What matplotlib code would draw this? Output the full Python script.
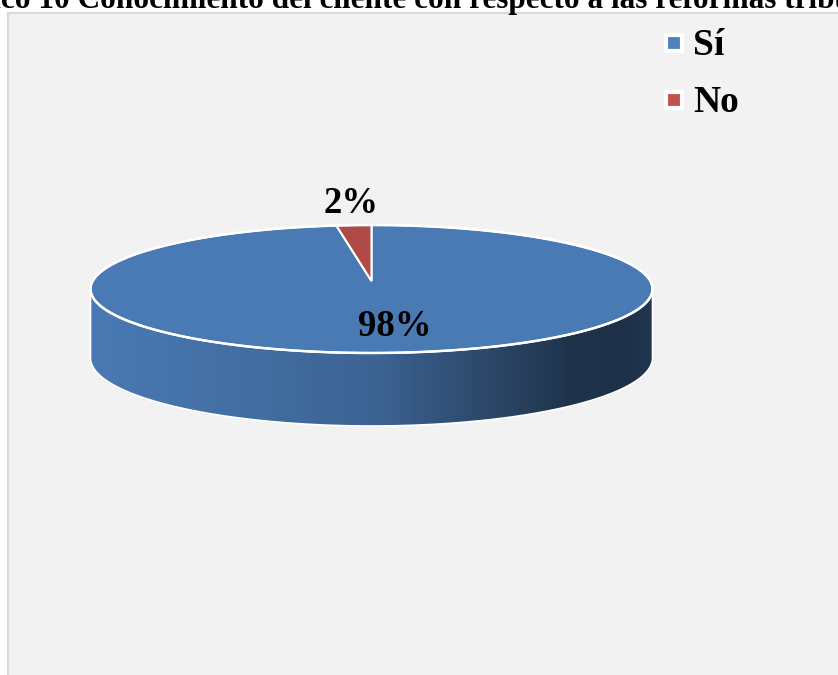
import numpy as np
import matplotlib
matplotlib.use('Agg')
import matplotlib.pyplot as plt
from matplotlib.patches import Polygon, Rectangle
from matplotlib.colors import to_rgb

# Datos del grafico
categorias = ['Sí', 'No']
valores = [98, 2]
colores_sup = ['#4a7ab4', '#b04a47']
colores_ley = ['#4f81bd', '#c0504d']
titulo = 'Gráfico 10 Conocimiento del cliente con respecto a las reformas tributarias'

fuente = 'Liberation Serif'

fig = plt.figure(figsize=(8.38, 6.75), dpi=100)
ax = fig.add_axes([0, 0, 1, 1])
ax.set_xlim(0, 838)
ax.set_ylim(675, 0)
ax.axis('off')

# fondo del area del grafico
ax.add_patch(Rectangle((7.5, 13), 840, 670, fc='#f2f2f2', ec='#d9d9d9', lw=1.5, zorder=0))

# titulo (cortado arriba y a la izquierda como en la imagen)
renderer = fig.canvas.get_renderer()
tmp = ax.text(0, 0, 'Gráfi', fontsize=22.5, fontweight='bold', family=fuente)
ancho_prefijo = tmp.get_window_extent(renderer).width
tmp.remove()
fig.text(-ancho_prefijo / 838 + 0.001, 1 - 8 / 675, titulo, fontsize=22.5, fontweight='bold',
         family=fuente, va='baseline', ha='left')

# geometria del pastel 3D
cx, cy, a, b = 371.5, 289, 281, 64
cy_base, b_base = 358, 68
tip_y = 281


def elipse(t, yc, bb):
    t = np.radians(t)
    return cx + a * np.cos(t), yc + bb * np.sin(t)


total = sum(valores)
inicio = 270.0
angulos = []
for v in valores:
    fin = inicio + v / total * 360
    angulos.append((inicio, fin))
    inicio = fin

# caras laterales con degradado
xs = np.linspace(cx - a - 2, cx + a + 2, 600)
u = (xs - (cx - a)) / (2 * a)
factor = np.interp(u, [0, 0.5, 0.85, 0.95, 1.0], [1.0, 0.82, 0.42, 0.40, 0.45])
for (t0, t1), col in zip(angulos, colores_sup):
    for k in range(3):
        lo = max(t0, 360 * k)
        hi = min(t1, 360 * k + 180)
        if hi <= lo:
            continue
        tt = np.linspace(lo, hi, 200)
        x1, y1 = elipse(tt, cy, b)
        x2, y2 = elipse(tt[::-1], cy_base, b_base)
        pts = np.column_stack([np.r_[x1, x2], np.r_[y1, y2]])
        poly = Polygon(pts, closed=True, fc='none', ec='white', lw=1.2, zorder=3)
        ax.add_patch(poly)
        rgb = np.array(to_rgb(col))
        img = (factor[:, None] * rgb[None, :])[None, :, :]
        im = ax.imshow(img, extent=(xs[0], xs[-1], cy_base + b_base + 2, cy - b - 2),
                       aspect='auto', zorder=2, interpolation='bilinear')
        im.set_clip_path(poly)

# cara superior
for (t0, t1), col in zip(angulos, colores_sup):
    tt = np.linspace(t0, t1, max(int(t1 - t0) * 2, 10))
    x, y = elipse(tt, cy, b)
    pts = np.column_stack([np.r_[cx, x], np.r_[tip_y, y]])
    ax.add_patch(Polygon(pts, closed=True, fc=col, ec='white', lw=1.5, zorder=4, joinstyle='miter'))

tt = np.linspace(0, 360, 400)
x, y = elipse(tt, cy, b)
ax.plot(x, y, color='white', lw=1.8, zorder=5)
ax.set_xlim(0, 838)
ax.set_ylim(675, 0)

# etiquetas de porcentaje
pos_etiquetas = [(395, 336), (351, 213)]
for v, (px, py) in zip(valores, pos_etiquetas):
    ax.text(px, py, f'{v / total * 100:.0f}%', fontsize=26.5, fontweight='bold', family=fuente,
            ha='center', va='baseline', zorder=6)

# leyenda
pos_leyenda = [43, 100]
for cat, col, py in zip(categorias, colores_ley, pos_leyenda):
    ax.add_patch(Rectangle((666, py - 8), 16, 16, fc=col, ec='white', lw=3, zorder=6))
    ax.text(693, py + 12, cat, fontsize=27, fontweight='bold', family=fuente,
            ha='left', va='baseline', zorder=6)

plt.savefig('out.png', dpi=100)
